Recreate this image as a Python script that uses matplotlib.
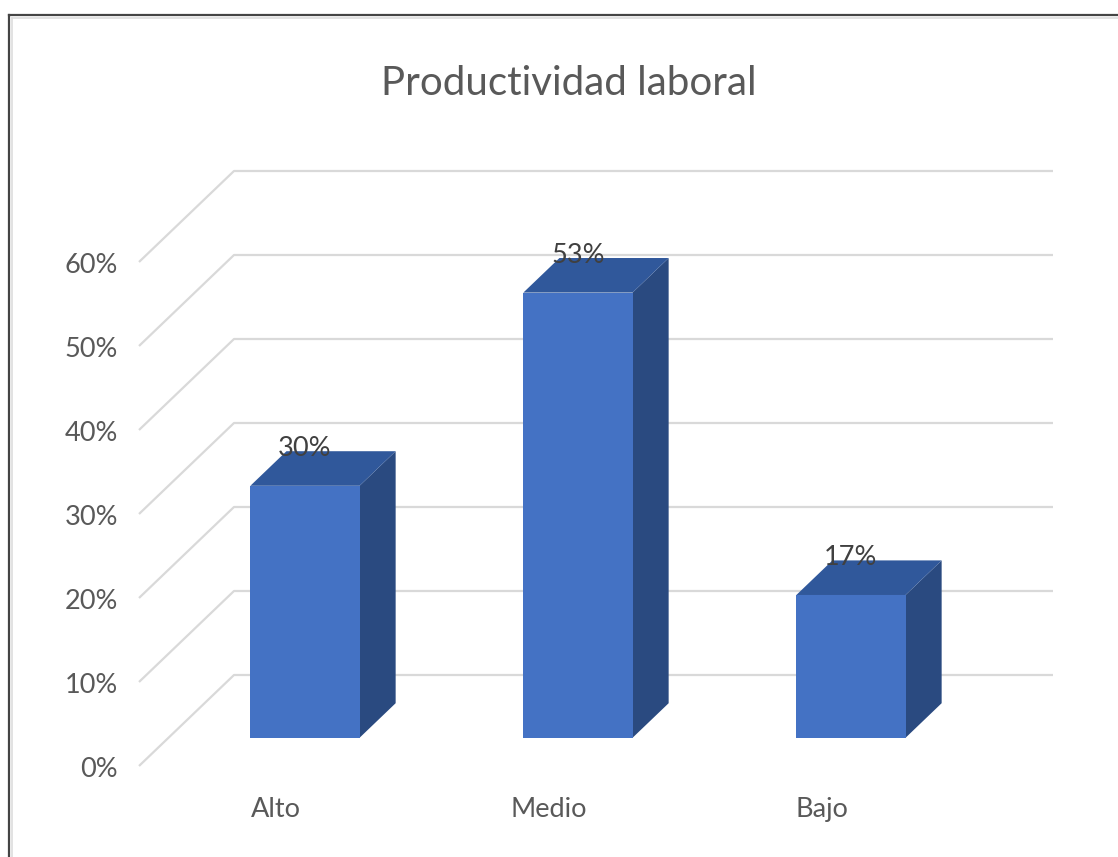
import matplotlib.pyplot as plt
from matplotlib.patches import Polygon
from matplotlib.lines import Line2D

plt.rcParams['font.family'] = ['Lato', 'DejaVu Sans']

# datos
categorias = ['Alto', 'Medio', 'Bajo']
valores = [30, 53, 17]
ticks = [0, 10, 20, 30, 40, 50, 60]
titulo = 'Productividad laboral'

# estilo
c_frente = '#4472C4'
c_techo = '#30589B'
c_lado = '#2A4A80'
c_grid = '#D9D9D9'
c_texto = '#595959'

# proyeccion pseudo 3D (unidades de datos)
DX = 95 / 273.0      # desplazamiento x de la profundidad total
DY = 91 / 8.4        # desplazamiento y (en %) de la profundidad total
D0, D1 = 0.31, 0.69  # profundidad de las barras
ANCHO = 0.40


def proj(x, v, d):
    return x + d * DX, v + d * DY


fig = plt.figure(figsize=(11.18, 8.57), dpi=100)
ax = fig.add_axes([0, 0, 1, 1])
ax.set_xlim(-275.5 / 273, (1118 - 275.5) / 273)
ax.set_ylim(-(857 - 766) / 8.4, 766 / 8.4)
ax.axis('off')

n = len(categorias)
# rejilla: diagonal en el piso lateral + linea en la pared del fondo
for v in ticks:
    xa, ya = proj(-0.5, v, 0)
    xb, yb = proj(-0.5, v, 1)
    xc, yc = proj(n - 0.5, v, 1)
    ax.plot([xa, xb, xc], [ya, yb, yc], color=c_grid, lw=1.6, zorder=1,
            solid_capstyle='butt')
    ax.text(-0.577, v - 0.4, f'{v}%', ha='right', va='center', fontsize=19.5,
            color=c_texto)

# barras
for i, val in enumerate(valores):
    x0, x1 = i - ANCHO / 2, i + ANCHO / 2
    frente = [proj(x0, 0, D0), proj(x1, 0, D0), proj(x1, val, D0), proj(x0, val, D0)]
    techo = [proj(x0, val, D0), proj(x1, val, D0), proj(x1, val, D1), proj(x0, val, D1)]
    lado = [proj(x1, 0, D0), proj(x1, 0, D1), proj(x1, val, D1), proj(x1, val, D0)]
    ax.add_patch(Polygon(lado, closed=True, fc=c_lado, ec='none', zorder=3))
    ax.add_patch(Polygon(techo, closed=True, fc=c_techo, ec='none', zorder=3))
    ax.add_patch(Polygon(frente, closed=True, fc=c_frente, ec='none', zorder=4))
    lx, _ = proj(i, val, D0)
    ax.text(lx, val + D1 * DY + 0.3, f'{val}%', ha='center', va='center',
            fontsize=19.5, color='#404040', zorder=5)
    ax.text(i, -5.2, categorias[i], ha='center', va='center', fontsize=19.5,
            color=c_texto)

ax.text(1.075, 81.3, titulo, ha='center', va='center', fontsize=29,
        color=c_texto)

# marco
fig.add_artist(Line2D([9 / 1118, 9 / 1118], [0, 1 - 15 / 857], color='#444444',
                      lw=1.6, transform=fig.transFigure))
fig.add_artist(Line2D([9 / 1118, 1], [1 - 15 / 857, 1 - 15 / 857], color='#444444',
                      lw=1.6, transform=fig.transFigure))
fig.add_artist(Line2D([11.5 / 1118, 1], [1 - 18 / 857, 1 - 18 / 857], color='#DDDDDD',
                      lw=1.2, transform=fig.transFigure))
fig.add_artist(Line2D([11.5 / 1118, 11.5 / 1118], [0, 1 - 18 / 857], color='#DDDDDD',
                      lw=1.2, transform=fig.transFigure))

fig.savefig('out.png', dpi=100)
